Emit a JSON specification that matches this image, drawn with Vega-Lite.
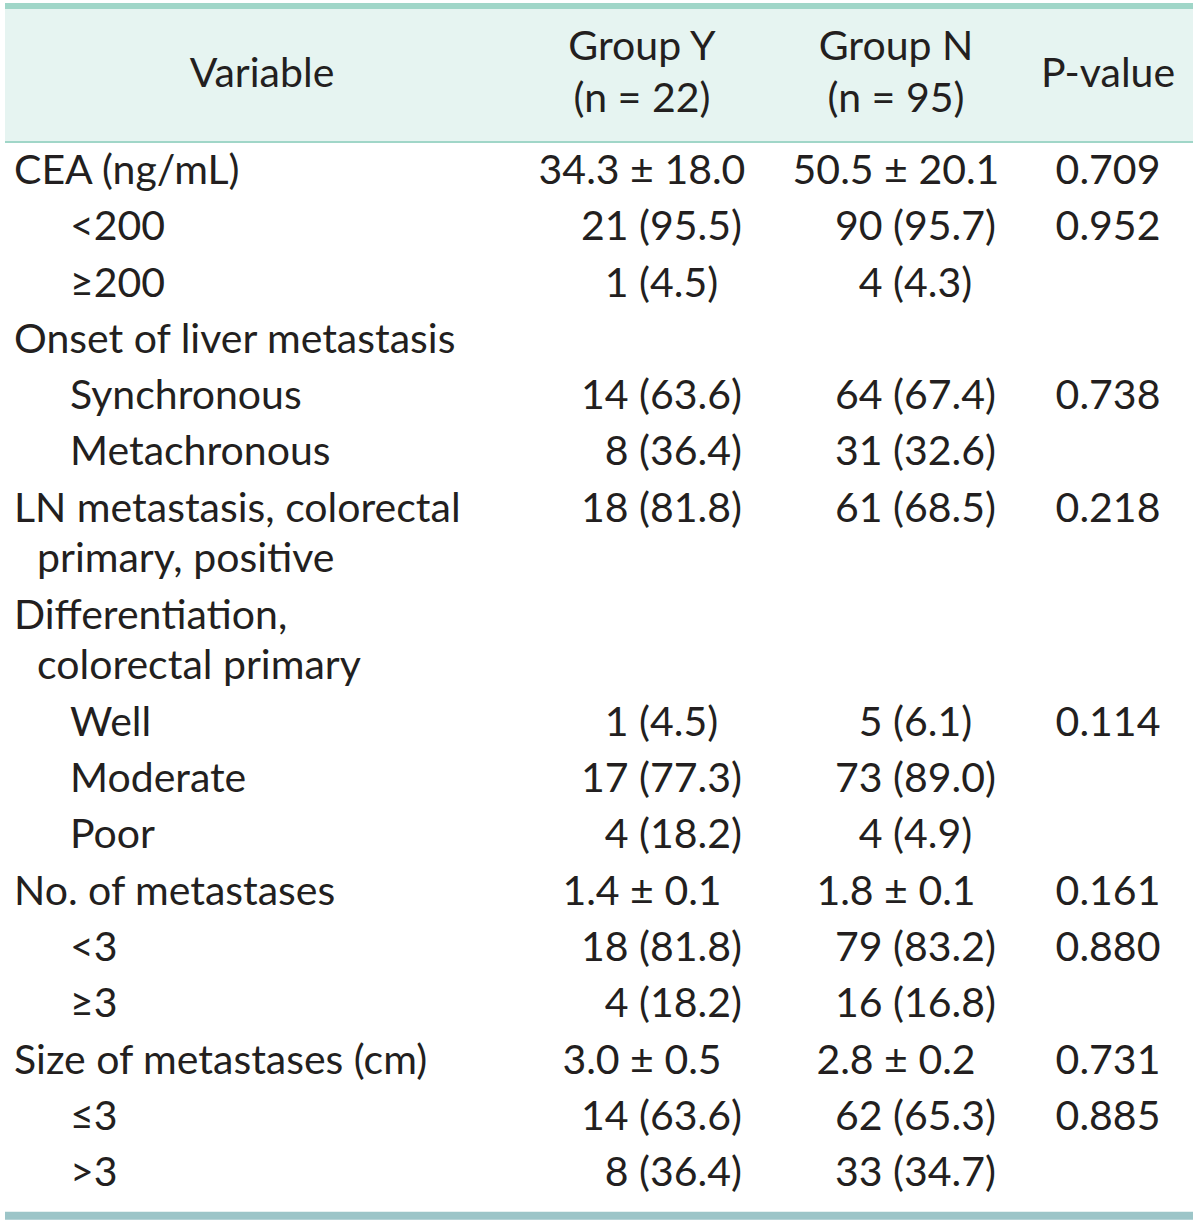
{
  "$schema": "https://vega.github.io/schema/vega-lite/v6.json",
  "width": 1200,
  "height": 1227,
  "padding": 0,
  "autosize": {"type": "fit", "contains": "padding"},
  "background": "#ffffff",
  "config": {"view": {"stroke": null}, "text": {"font": "Lato", "fontSize": 41, "color": "#231f20"}},
  "datasets": {
    "frame": [{"part": "header", "x0": 0, "x1": 1}],
    "header": [
      {"col": 0, "line": -1.72, "text": "Variable"},
      {"col": 1, "line": -2.2, "text": "Group Y"},
      {"col": 1, "line": -1.28, "text": "(n = 22)"},
      {"col": 2, "line": -2.2, "text": "Group N"},
      {"col": 2, "line": -1.28, "text": "(n = 95)"},
      {"col": 3, "line": -1.72, "text": "P-value"}
    ],
    "body": [
      {"line": 0, "col": 0, "level": 0, "kind": "label", "text": "CEA (ng/mL)"},
      {"line": 0, "col": 1, "level": 0, "kind": "mean", "text": "34.3 ± 18.0"},
      {"line": 0, "col": 2, "level": 0, "kind": "mean", "text": "50.5 ± 20.1"},
      {"line": 0, "col": 3, "level": 0, "kind": "p", "text": "0.709"},
      {"line": 1, "col": 0, "level": 2, "kind": "label", "text": "<200"},
      {"line": 1, "col": 1, "level": 2, "kind": "count", "text": "21 (95.5)"},
      {"line": 1, "col": 2, "level": 2, "kind": "count", "text": "90 (95.7)"},
      {"line": 1, "col": 3, "level": 2, "kind": "p", "text": "0.952"},
      {"line": 2, "col": 0, "level": 2, "kind": "label", "text": "≥200"},
      {"line": 2, "col": 1, "level": 2, "kind": "count", "text": "1 (4.5)\u2007\u2060"},
      {"line": 2, "col": 2, "level": 2, "kind": "count", "text": "4 (4.3)\u2007\u2060"},
      {"line": 3, "col": 0, "level": 0, "kind": "label", "text": "Onset of liver metastasis"},
      {"line": 4, "col": 0, "level": 2, "kind": "label", "text": "Synchronous"},
      {"line": 4, "col": 1, "level": 2, "kind": "count", "text": "14 (63.6)"},
      {"line": 4, "col": 2, "level": 2, "kind": "count", "text": "64 (67.4)"},
      {"line": 4, "col": 3, "level": 2, "kind": "p", "text": "0.738"},
      {"line": 5, "col": 0, "level": 2, "kind": "label", "text": "Metachronous"},
      {"line": 5, "col": 1, "level": 2, "kind": "count", "text": "8 (36.4)"},
      {"line": 5, "col": 2, "level": 2, "kind": "count", "text": "31 (32.6)"},
      {"line": 6, "col": 0, "level": 0, "kind": "label", "text": "LN metastasis, colorectal"},
      {"line": 6, "col": 1, "level": 0, "kind": "count", "text": "18 (81.8)"},
      {"line": 6, "col": 2, "level": 0, "kind": "count", "text": "61 (68.5)"},
      {"line": 6, "col": 3, "level": 0, "kind": "p", "text": "0.218"},
      {"line": 6.9, "col": 0, "level": 1, "kind": "label", "text": "primary, positive"},
      {"line": 7.9, "col": 0, "level": 0, "kind": "label", "text": "Differentiation,"},
      {"line": 8.8, "col": 0, "level": 1, "kind": "label", "text": "colorectal primary"},
      {"line": 9.8, "col": 0, "level": 2, "kind": "label", "text": "Well"},
      {"line": 9.8, "col": 1, "level": 2, "kind": "count", "text": "1 (4.5)\u2007\u2060"},
      {"line": 9.8, "col": 2, "level": 2, "kind": "count", "text": "5 (6.1)\u2007\u2060"},
      {"line": 9.8, "col": 3, "level": 2, "kind": "p", "text": "0.114"},
      {"line": 10.8, "col": 0, "level": 2, "kind": "label", "text": "Moderate"},
      {"line": 10.8, "col": 1, "level": 2, "kind": "count", "text": "17 (77.3)"},
      {"line": 10.8, "col": 2, "level": 2, "kind": "count", "text": "73 (89.0)"},
      {"line": 11.8, "col": 0, "level": 2, "kind": "label", "text": "Poor"},
      {"line": 11.8, "col": 1, "level": 2, "kind": "count", "text": "4 (18.2)"},
      {"line": 11.8, "col": 2, "level": 2, "kind": "count", "text": "4 (4.9)\u2007\u2060"},
      {"line": 12.8, "col": 0, "level": 0, "kind": "label", "text": "No. of metastases"},
      {"line": 12.8, "col": 1, "level": 0, "kind": "mean", "text": "1.4 ± 0.1"},
      {"line": 12.8, "col": 2, "level": 0, "kind": "mean", "text": "1.8 ± 0.1"},
      {"line": 12.8, "col": 3, "level": 0, "kind": "p", "text": "0.161"},
      {"line": 13.8, "col": 0, "level": 2, "kind": "label", "text": "<3"},
      {"line": 13.8, "col": 1, "level": 2, "kind": "count", "text": "18 (81.8)"},
      {"line": 13.8, "col": 2, "level": 2, "kind": "count", "text": "79 (83.2)"},
      {"line": 13.8, "col": 3, "level": 2, "kind": "p", "text": "0.880"},
      {"line": 14.8, "col": 0, "level": 2, "kind": "label", "text": "≥3"},
      {"line": 14.8, "col": 1, "level": 2, "kind": "count", "text": "4 (18.2)"},
      {"line": 14.8, "col": 2, "level": 2, "kind": "count", "text": "16 (16.8)"},
      {"line": 15.8, "col": 0, "level": 0, "kind": "label", "text": "Size of metastases (cm)"},
      {"line": 15.8, "col": 1, "level": 0, "kind": "mean", "text": "3.0 ± 0.5"},
      {"line": 15.8, "col": 2, "level": 0, "kind": "mean", "text": "2.8 ± 0.2"},
      {"line": 15.8, "col": 3, "level": 0, "kind": "p", "text": "0.731"},
      {"line": 16.8, "col": 0, "level": 2, "kind": "label", "text": "≤3"},
      {"line": 16.8, "col": 1, "level": 2, "kind": "count", "text": "14 (63.6)"},
      {"line": 16.8, "col": 2, "level": 2, "kind": "count", "text": "62 (65.3)"},
      {"line": 16.8, "col": 3, "level": 2, "kind": "p", "text": "0.885"},
      {"line": 17.8, "col": 0, "level": 2, "kind": "label", "text": ">3"},
      {"line": 17.8, "col": 1, "level": 2, "kind": "count", "text": "8 (36.4)"},
      {"line": 17.8, "col": 2, "level": 2, "kind": "count", "text": "33 (34.7)"}
    ]
  },
  "layer": [
    {
      "data": {"name": "frame"},
      "mark": {"type": "rect", "color": "#e6f4f1"},
      "encoding": {
        "x": {"field": "x0", "type": "quantitative", "scale": {"domain": [0, 1], "range": [5, 1193]}, "axis": null},
        "x2": {"field": "x1"},
        "y": {"datum": -2.895, "type": "quantitative", "scale": {"domain": [-3.055, 18.739], "reverse": true, "zero": false, "nice": false}, "axis": null},
        "y2": {"datum": -0.551}
      }
    },
    {
      "data": {"name": "frame"},
      "mark": {"type": "rect", "color": "#a0d6c8"},
      "encoding": {
        "x": {"field": "x0", "type": "quantitative", "scale": {"domain": [0, 1], "range": [5, 1193]}, "axis": null},
        "x2": {"field": "x1"},
        "y": {"datum": -3.002, "type": "quantitative"},
        "y2": {"datum": -2.895}
      }
    },
    {
      "data": {"name": "frame"},
      "mark": {"type": "rect", "color": "#a0d6c8"},
      "encoding": {
        "x": {"field": "x0", "type": "quantitative", "scale": {"domain": [0, 1], "range": [5, 1193]}, "axis": null},
        "x2": {"field": "x1"},
        "y": {"datum": -0.551, "type": "quantitative"},
        "y2": {"datum": -0.515}
      }
    },
    {
      "data": {"name": "frame"},
      "mark": {"type": "rect", "color": "#9cc5c8"},
      "encoding": {
        "x": {"field": "x0", "type": "quantitative", "scale": {"domain": [0, 1], "range": [5, 1193]}, "axis": null},
        "x2": {"field": "x1"},
        "y": {"datum": 18.47, "type": "quantitative"},
        "y2": {"datum": 18.61}
      }
    },
    {
      "data": {"name": "header"},
      "mark": {"type": "text", "align": "center", "baseline": "middle"},
      "encoding": {
        "x": {"field": "col", "type": "quantitative", "scale": {"domain": [0, 1, 2, 3], "range": [262, 642, 896, 1108]}, "axis": null},
        "y": {"field": "line", "type": "quantitative"},
        "text": {"field": "text"}
      }
    },
    {
      "data": {"name": "body"},
      "transform": [{"filter": "datum.kind === 'label'"}],
      "mark": {"type": "text", "align": "left", "baseline": "middle"},
      "encoding": {
        "x": {"field": "level", "type": "quantitative", "scale": {"domain": [0, 1, 2], "range": [14, 37, 70]}, "axis": null},
        "y": {"field": "line", "type": "quantitative"},
        "text": {"field": "text"}
      }
    },
    {
      "data": {"name": "body"},
      "transform": [{"filter": "datum.kind === 'mean' || datum.kind === 'p'"}],
      "mark": {"type": "text", "align": "center", "baseline": "middle"},
      "encoding": {
        "x": {"field": "col", "type": "quantitative", "scale": {"domain": [0, 1, 2, 3], "range": [262, 642, 896, 1108]}, "axis": null},
        "y": {"field": "line", "type": "quantitative"},
        "text": {"field": "text"}
      }
    },
    {
      "data": {"name": "body"},
      "transform": [{"filter": "datum.kind === 'count'"}],
      "mark": {"type": "text", "align": "right", "baseline": "middle", "dx": 100},
      "encoding": {
        "x": {"field": "col", "type": "quantitative", "scale": {"domain": [0, 1, 2, 3], "range": [262, 642, 896, 1108]}, "axis": null},
        "y": {"field": "line", "type": "quantitative"},
        "text": {"field": "text"}
      }
    }
  ],
  "resolve": {"scale": {"x": "independent"}}
}
